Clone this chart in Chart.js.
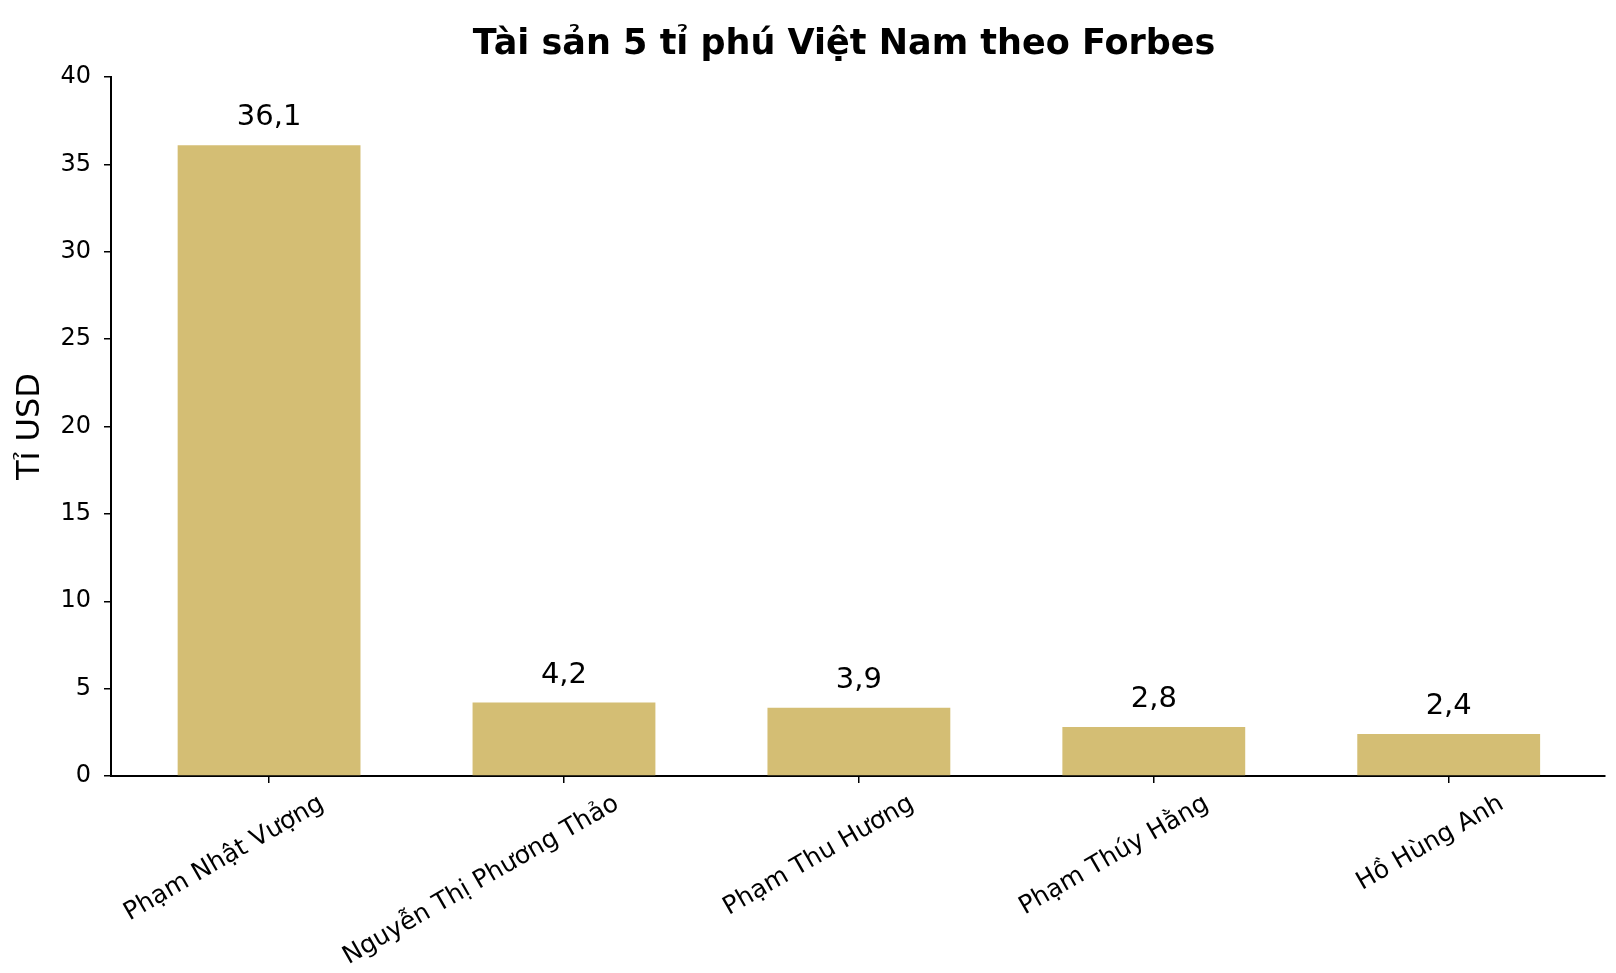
<!DOCTYPE html>
<html>
<head>
<meta charset="utf-8">
<script src="https://cdn.jsdelivr.net/npm/chart.js@4.4.1/dist/chart.umd.min.js"></script>
<style>
  html, body { margin: 0; padding: 0; background: #fff; }
  #wrap { width: 1616px; height: 973px; }
</style>
</head>
<body>
<div id="wrap"><canvas id="chart"></canvas></div>
<script>
const categories = ["Phạm Nhật Vượng", "Nguyễn Thị Phương Thảo", "Phạm Thu Hương", "Phạm Thúy Hằng", "Hồ Hùng Anh"];
const wealth = [36.1, 4.2, 3.9, 2.8, 2.4]; // tỉ USD
const yTicks = [0, 5, 10, 15, 20, 25, 30, 35, 40];

const FONT = "'DejaVu Sans', sans-serif";
const barColor = "rgb(212, 190, 116)";

// Value labels above each bar, comma as decimal separator
const valueLabels = {
  id: "valueLabels",
  afterLayout(chart) {
    // title sits a little left of the plot centre in the original
    chart.titleBlock.left -= 14;
    chart.titleBlock.right -= 14;
  },
  afterDatasetsDraw(chart) {
    const ctx = chart.ctx;
    const meta = chart.getDatasetMeta(0);
    ctx.save();
    ctx.font = "29px " + FONT;
    ctx.fillStyle = "#000";
    ctx.textAlign = "center";
    ctx.textBaseline = "alphabetic";
    meta.data.forEach((bar, i) => {
      const text = wealth[i].toFixed(1).replace(".", ",");
      ctx.fillText(text, bar.x, bar.y - 20);
    });
    ctx.restore();
  }
};

const ctx = document.getElementById("chart").getContext("2d");
const chart = new Chart(ctx, {
  type: "bar",
  data: {
    datasets: [{
      data: wealth.map((v, i) => ({ x: i, y: v })),
      backgroundColor: barColor,
      borderWidth: 0,
      barPercentage: 0.62,
      categoryPercentage: 1
    }]
  },
  options: {
    responsive: true,
    maintainAspectRatio: false,
    devicePixelRatio: 1,
    animation: false,
    layout: { padding: { left: 0, right: 11, top: 0, bottom: 0 } },
    plugins: {
      legend: { display: false },
      tooltip: { enabled: false },
      title: {
        display: true,
        text: "Tài sản 5 tỉ phú Việt Nam theo Forbes",
        color: "#000",
        fullSize: false,
        font: { family: FONT, size: 35, weight: "bold" },
        padding: { top: 24, bottom: 11 }
      }
    },
    scales: {
      x: {
        type: "linear",
        offset: false,
        min: -0.536,
        max: 4.53,
        afterBuildTicks(scale) { scale.ticks = categories.map((c, i) => ({ value: i })); },
        grid: { display: true, offset: false, drawOnChartArea: false, drawTicks: true, tickLength: 7, color: "#000", lineWidth: 1.5 },
        border: { display: true, color: "#000", width: 2 },
        ticks: {
          color: "#000",
          font: { family: FONT, size: 25 },
          autoSkip: false,
          minRotation: 30,
          maxRotation: 30,
          labelOffset: 53,
          padding: 6,
          callback: (v) => categories[v]
        },
        afterFit(scale) { scale.height = 197; }
      },
      y: {
        min: 0,
        max: 40,
        afterBuildTicks(scale) { scale.ticks = yTicks.map(v => ({ value: v })); },
        grid: { display: true, drawOnChartArea: false, drawTicks: true, tickLength: 7, color: "#000", lineWidth: 1.5 },
        border: { display: true, color: "#000", width: 2 },
        ticks: {
          color: "#000",
          font: { family: FONT, size: 24 },
          padding: 13
        },
        title: {
          display: true,
          text: "Tỉ USD",
          color: "#000",
          font: { family: FONT, size: 32 },
          padding: { top: 11, bottom: 0 }
        },
        afterFit(scale) { scale.width = 111; }
      }
    }
  },
  plugins: [valueLabels]
});
</script>
</body>
</html>
